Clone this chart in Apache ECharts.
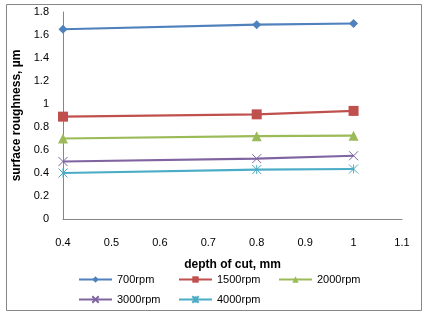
<!DOCTYPE html>
<html>
<head>
<meta charset="utf-8">
<script src="https://cdn.jsdelivr.net/npm/echarts@6/dist/echarts.min.js"></script>
<style>
  html, body { margin: 0; padding: 0; background: #fff; }
  #chart { width: 426px; height: 317px; }
</style>
</head>
<body>
<div id="chart"></div>
<script>
// depth of cut, mm
var depth = [0.4, 0.8, 1.0];
var names = ["700rpm", "1500rpm", "2000rpm", "3000rpm", "4000rpm"];
var rpm700 = [1.65, 1.69, 1.70];
var rpm1500 = [0.89, 0.91, 0.94];
var rpm2000 = [0.70, 0.72, 0.725];
var rpm3000 = [0.50, 0.525, 0.55];
var rpm4000 = [0.40, 0.43, 0.435];

var colors = ["#4F81BD", "#C0504D", "#9BBB59", "#8064A2", "#4BACC6"];
var symbols = [
    "diamond",
    "rect",
    "triangle",
    "path://M0,0L10,10M10,0L0,10",
    "path://M0,0L10,10M10,0L0,10M5,0L5,10"
];
var sizes = [9, 10, 10, 9, 9];
var font = "Liberation Sans";

var chart = echarts.init(document.getElementById("chart"));

var allData = [rpm700, rpm1500, rpm2000, rpm3000, rpm4000];
var series = allData.map(function (vals, i) {
    var c = colors[i];
    var stroke = i >= 3; // x and star markers are drawn with lines
    return {
        name: names[i],
        type: "line",
        data: depth.map(function (x, j) { return [x, vals[j]]; }),
        symbol: symbols[i],
        symbolSize: sizes[i],
        showAllSymbol: true,
        lineStyle: { color: c, width: 2.2 },
        itemStyle: stroke
            ? { color: "rgba(0,0,0,0)", borderColor: c, borderWidth: 1 }
            : { color: c, borderWidth: 0 },
        emphasis: { disabled: true },
        animation: false
    };
});

// one legend per item so they sit on an even grid like the original
var legendPos = [[78, 274], [178, 274], [278, 274], [78, 294], [178, 294]];
var legends = names.map(function (n, i) {
    return {
        data: [n],
        left: legendPos[i][0],
        top: legendPos[i][1],
        itemWidth: 33,
        itemHeight: 8,
        itemGap: 4,
        padding: 0,
        textStyle: { fontFamily: font, fontSize: 11, color: "#000", padding: [0, 0, 0, 0] }
    };
});

var option = {
    backgroundColor: "#fff",
    animation: false,
    legend: legends,
    grid: { left: 63, right: 24, top: 12, bottom: 98, containLabel: false },
    xAxis: {
        type: "value",
        min: 0.4,
        max: 1.1,
        interval: 0.1,
        name: "depth of cut, mm",
        nameLocation: "middle",
        nameGap: 40,
        nameTextStyle: { fontFamily: font, fontSize: 12, fontWeight: "bold", color: "#000" },
        axisLine: { show: true, onZero: false, lineStyle: { color: "#868686", width: 1 } },
        axisTick: { show: false },
        splitLine: { show: false },
        axisLabel: {
            fontFamily: font, fontSize: 11, color: "#000", margin: 18,
            formatter: function (v) { return String(Math.round(v * 10) / 10); }
        }
    },
    yAxis: {
        type: "value",
        min: 0,
        max: 1.8,
        interval: 0.2,
        name: "surface roughness, µm",
        nameLocation: "middle",
        nameGap: 33,
        nameTextStyle: { fontFamily: font, fontSize: 12, fontWeight: "bold", color: "#000" },
        axisLine: { show: true, lineStyle: { color: "#868686", width: 1 } },
        axisTick: { show: false },
        splitLine: { show: false },
        axisLabel: {
            fontFamily: font, fontSize: 11, color: "#000", margin: 14,
            formatter: function (v) { return String(Math.round(v * 10) / 10); }
        }
    },
    graphic: [{
        type: "rect",
        shape: { x: 6.5, y: 4.5, width: 415, height: 306 },
        style: { fill: "none", stroke: "#868686", lineWidth: 1 },
        silent: true,
        z: -1
    }],
    series: series
};

chart.setOption(option);
</script>
</body>
</html>
